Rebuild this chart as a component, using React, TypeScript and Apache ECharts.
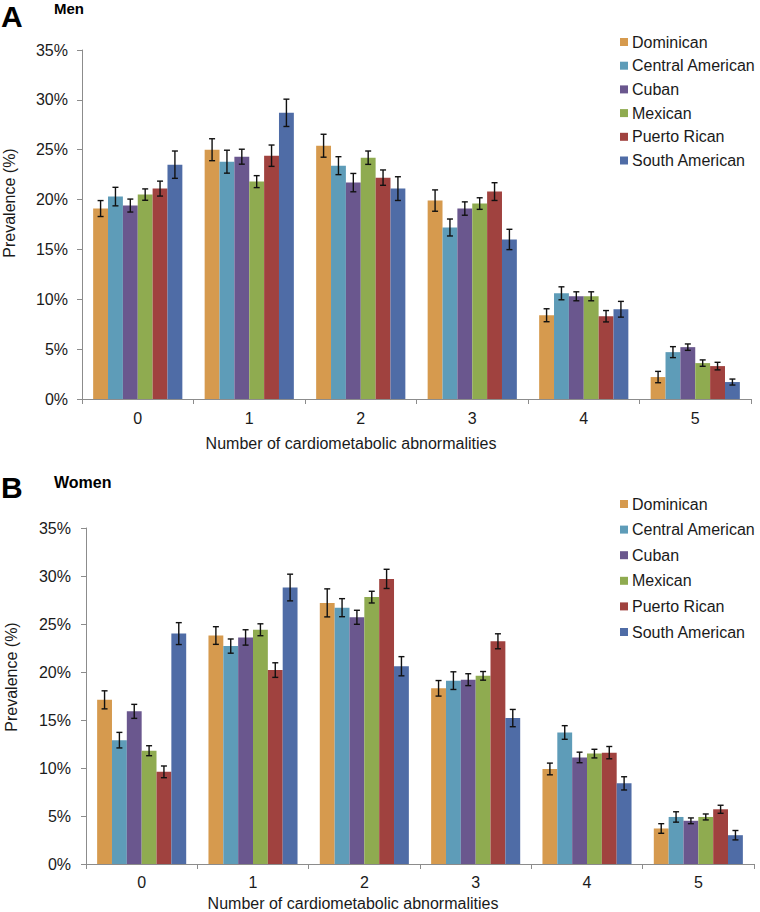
import React, { useEffect, useRef } from "react";
import * as echarts from "echarts";

const categories = ["0", "1", "2", "3", "4", "5"];
const groupNames = ["Dominican", "Central American", "Cuban", "Mexican", "Puerto Rican", "South American"];
const groupColors = ["#D69A4E", "#5E9CB8", "#6A578E", "#8FAB50", "#A0423F", "#4F6CA6"];

// Men (%)
const menDominican = [19.1, 25.0, 25.4, 19.9, 8.4, 2.2];
const menCentralAmerican = [20.3, 23.8, 23.4, 17.2, 10.6, 4.7];
const menCuban = [19.4, 24.3, 21.7, 19.1, 10.3, 5.2];
const menMexican = [20.5, 21.8, 24.2, 19.6, 10.3, 3.6];
const menPuertoRican = [21.1, 24.4, 22.2, 20.8, 8.3, 3.3];
const menSouthAmerican = [23.5, 28.7, 21.1, 16.0, 9.0, 1.7];
// Men error (half-width, %)
const menDominicanErr = [0.8, 1.1, 1.15, 1.07, 0.65, 0.57];
const menCentralAmericanErr = [0.93, 1.15, 0.9, 0.85, 0.65, 0.55];
const menCubanErr = [0.65, 0.75, 0.92, 0.67, 0.45, 0.32];
const menMexicanErr = [0.57, 0.6, 0.67, 0.58, 0.45, 0.32];
const menPuertoRicanErr = [0.75, 1.07, 0.77, 0.89, 0.57, 0.38];
const menSouthAmericanErr = [1.37, 1.37, 1.19, 1.02, 0.79, 0.3];

// Women (%)
const womenDominican = [17.1, 23.8, 27.2, 18.3, 9.9, 3.7];
const womenCentralAmerican = [12.9, 22.7, 26.7, 19.1, 13.7, 4.9];
const womenCuban = [15.9, 23.6, 25.7, 19.2, 11.1, 4.5];
const womenMexican = [11.8, 24.4, 27.8, 19.6, 11.5, 4.9];
const womenPuertoRican = [9.6, 20.2, 29.7, 23.2, 11.6, 5.7];
const womenSouthAmerican = [24.0, 28.8, 20.6, 15.2, 8.4, 3.0];
// Women error (half-width, %)
const womenDominicanErr = [0.94, 0.92, 1.46, 0.81, 0.61, 0.5];
const womenCentralAmericanErr = [0.81, 0.74, 0.94, 0.92, 0.71, 0.54];
const womenCubanErr = [0.73, 0.8, 0.73, 0.62, 0.55, 0.3];
const womenMexicanErr = [0.52, 0.62, 0.61, 0.45, 0.45, 0.31];
const womenPuertoRicanErr = [0.61, 0.76, 1.0, 0.78, 0.64, 0.42];
const womenSouthAmericanErr = [1.14, 1.39, 1.0, 0.9, 0.69, 0.49];

const yTicks = [0, 5, 10, 15, 20, 25, 30, 35];

const menValues = [menDominican, menCentralAmerican, menCuban, menMexican, menPuertoRican, menSouthAmerican];
const menErrors = [menDominicanErr, menCentralAmericanErr, menCubanErr, menMexicanErr, menPuertoRicanErr, menSouthAmericanErr];
const womenValues = [womenDominican, womenCentralAmerican, womenCuban, womenMexican, womenPuertoRican, womenSouthAmerican];
const womenErrors = [womenDominicanErr, womenCentralAmericanErr, womenCubanErr, womenMexicanErr, womenPuertoRicanErr, womenSouthAmericanErr];

const FONT = 'Arial, "Liberation Sans", Helvetica, sans-serif';
const TEXT = "#1a1a1a";
const AXIS = "#8c8c8c";
const GAP = 0.2;

function errorData(values: number[][], errors: number[][]) {
  const out: number[][] = [];
  values.forEach((arr, g) => {
    arr.forEach((v, c) => out.push([c, v, errors[g][c], g]));
  });
  return out;
}

function renderError(params: any, api: any) {
  const cat = api.value(0);
  const v = api.value(1);
  const e = api.value(2);
  const g = api.value(3);
  const band = api.size([1, 0])[0];
  const barW = (band * (1 - GAP)) / groupNames.length;
  const center = api.coord([cat, v]);
  const x = center[0] + (g - (groupNames.length - 1) / 2) * barW;
  const yHi = api.coord([cat, v + e])[1];
  const yLo = api.coord([cat, v - e])[1];
  const cap = 3;
  const style = { stroke: "#111", lineWidth: 1.4 };
  return {
    type: "group",
    children: [
      { type: "line", shape: { x1: x, y1: yHi, x2: x, y2: yLo }, style },
      { type: "line", shape: { x1: x - cap, y1: yHi, x2: x + cap, y2: yHi }, style },
      { type: "line", shape: { x1: x - cap, y1: yLo, x2: x + cap, y2: yLo }, style },
    ],
  };
}

function xAxisCfg(gridIndex: number, margin: number) {
  return {
    type: "category",
    gridIndex,
    data: categories,
    axisLine: { lineStyle: { color: AXIS, width: 1 } },
    axisTick: { show: true, alignWithLabel: false, length: 5, lineStyle: { color: AXIS } },
    axisLabel: { color: TEXT, fontSize: 16, fontFamily: FONT, margin },
    splitLine: { show: false },
  };
}

function yAxisCfg(gridIndex: number, margin: number) {
  return {
    type: "value",
    gridIndex,
    min: yTicks[0],
    max: yTicks[yTicks.length - 1],
    interval: 5,
    axisLine: { show: true, lineStyle: { color: AXIS, width: 1 } },
    axisTick: { show: true, length: 5, lineStyle: { color: AXIS } },
    axisLabel: { color: TEXT, fontSize: 16, fontFamily: FONT, margin, formatter: "{value}%" },
    splitLine: { show: false },
  };
}

function legendCfg(top: number, itemGap: number) {
  return {
    orient: "vertical",
    left: 620,
    top,
    padding: 0,
    icon: "rect",
    itemWidth: 8,
    itemHeight: 8,
    itemGap,
    data: groupNames,
    selectedMode: false,
    textStyle: { color: TEXT, fontSize: 16, fontFamily: FONT, lineHeight: 16, padding: [0, 0, 0, -1] },
  };
}

export default function App() {
  const ref = useRef<HTMLDivElement>(null);
  useEffect(() => {
    if (!ref.current) return;
    const chart = echarts.init(ref.current, undefined, { renderer: "svg" });
    const series: any[] = [];
    [menValues, womenValues].forEach((vals, gi) => {
      vals.forEach((arr, g) => {
        series.push({
          type: "bar",
          name: groupNames[g],
          xAxisIndex: gi,
          yAxisIndex: gi,
          data: arr,
          barGap: "0%",
          barCategoryGap: GAP * 100 + "%",
          itemStyle: { color: groupColors[g] },
        });
      });
    });
    series.push({
      type: "custom",
      name: "menErr",
      xAxisIndex: 0,
      yAxisIndex: 0,
      renderItem: renderError,
      data: errorData(menValues, menErrors),
      z: 10,
    });
    series.push({
      type: "custom",
      name: "womenErr",
      xAxisIndex: 1,
      yAxisIndex: 1,
      renderItem: renderError,
      data: errorData(womenValues, womenErrors),
      z: 10,
    });

    const txt = (x: number, y: number, text: string, size: number, bold: boolean, extra: any = {}) => ({
      type: "text",
      x,
      y,
      style: {
        text,
        fontSize: size,
        fontWeight: bold ? "bold" : "normal",
        fontFamily: FONT,
        fill: bold ? "#000" : TEXT,
        align: extra.align || "left",
        verticalAlign: "middle",
        lineHeight: extra.lineHeight,
      },
    });

    chart.setOption({
      animation: false,
      backgroundColor: "#fff",
      grid: [
        { left: 82, right: 9, top: 50, height: 349 },
        { left: 86, right: 6, top: 528, height: 336 },
      ],
      xAxis: [xAxisCfg(0, 11), xAxisCfg(1, 10)],
      yAxis: [yAxisCfg(0, 14), yAxisCfg(1, 15)],
      legend: [legendCfg(34, 7.7), legendCfg(496, 9.6)],
      series,
      graphic: [
        txt(1, 16, "A", 30, true, { lineHeight: 30 }),
        txt(54, 8, "Men", 15, true),
        txt(1, 487, "B", 30, true, { lineHeight: 30 }),
        txt(54, 482, "Women", 16, true),
        { ...txt(9, 203, "Prevalence (%)", 16, false, { align: "center" }), rotation: Math.PI / 2 },
        { ...txt(11, 677, "Prevalence (%)", 16, false, { align: "center" }), rotation: Math.PI / 2 },
        txt(351, 443, "Number of cardiometabolic abnormalities", 16, false, { align: "center" }),
        txt(353, 903, "Number of cardiometabolic abnormalities", 16, false, { align: "center" }),
      ],
    });
    return () => chart.dispose();
  }, []);
  return (
    <div
      ref={ref}
      style={{ position: "absolute", left: 0, top: 0, width: 760, height: 912, background: "#fff" }}
    />
  );
}
